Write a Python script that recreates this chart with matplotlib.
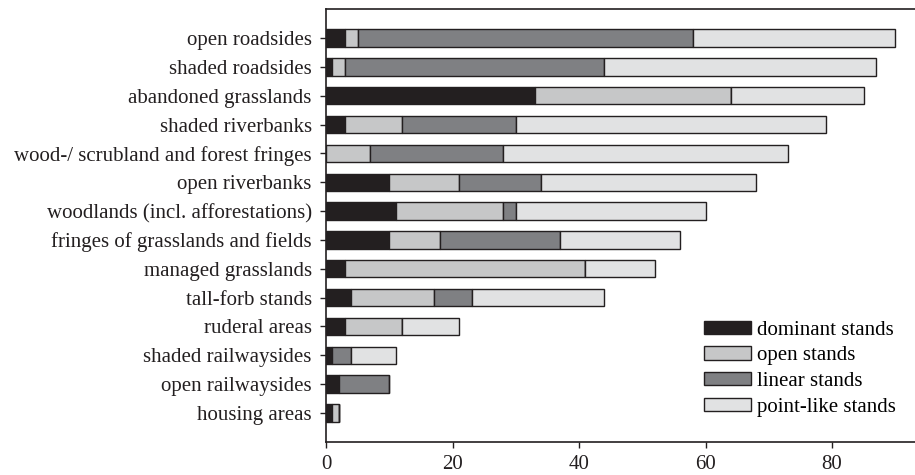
import matplotlib
matplotlib.use('Agg')
import matplotlib.pyplot as plt
import numpy as np

habitats = ['open roadsides', 'shaded roadsides', 'abandoned grasslands',
            'shaded riverbanks', 'wood-/ scrubland and forest fringes',
            'open riverbanks', 'woodlands (incl. afforestations)',
            'fringes of grasslands and fields', 'managed grasslands',
            'tall-forb stands', 'ruderal areas', 'shaded railwaysides',
            'open railwaysides', 'housing areas']

dominant = [3, 1, 33, 3, 0, 10, 11, 10, 3, 4, 3, 1, 2, 1]
open_st = [2, 2, 31, 9, 7, 11, 17, 8, 38, 13, 9, 0, 0, 1]
linear = [53, 41, 0, 18, 21, 13, 2, 19, 0, 6, 0, 3, 8, 0]
point_like = [32, 43, 21, 49, 45, 34, 30, 19, 11, 21, 9, 7, 0, 0]

series = [('dominant stands', dominant, '#231f20'),
          ('open stands', open_st, '#c6c7c8'),
          ('linear stands', linear, '#7f8083'),
          ('point-like stands', point_like, '#e1e2e3')]

plt.rcParams['font.family'] = ['Liberation Serif', 'DejaVu Serif']
plt.rcParams['font.size'] = 15

fig = plt.figure(figsize=(9.15, 4.75), dpi=100)
ax = fig.add_axes([0.3563, 0.070, 0.6437, 0.9104])

y = np.arange(len(habitats))
left = np.zeros(len(habitats))
for name, vals, col in series:
    vals = np.array(vals, dtype=float)
    ax.barh(y, vals, left=left, height=0.6, color=col, edgecolor='#231f20',
            linewidth=1.0, label=name)
    left += vals

ax.set_yticks(y)
ax.set_yticklabels(habitats)
ax.set_ylim(14, -1)
ax.set_xlim(0, 93.1)
ax.set_xticks([0, 20, 40, 60, 80])
ax.spines['right'].set_visible(False)
for s in ['left', 'bottom', 'top']:
    ax.spines[s].set_linewidth(1.2)
    ax.spines[s].set_color('#231f20')
ax.tick_params(axis='both', direction='out', length=4.3, width=1.0,
               colors='#231f20', labelcolor='#231f20')
ax.tick_params(axis='y', pad=6)
ax.tick_params(axis='x', pad=5)

ax.legend(loc='lower left', bbox_to_anchor=(0.6418, 0.058), frameon=False,
          borderpad=0, borderaxespad=0,
          handlelength=2.26, handleheight=0.6, handletextpad=0.3,
          labelspacing=0.32, fontsize=15)

fig.savefig('out.png', dpi=100)
